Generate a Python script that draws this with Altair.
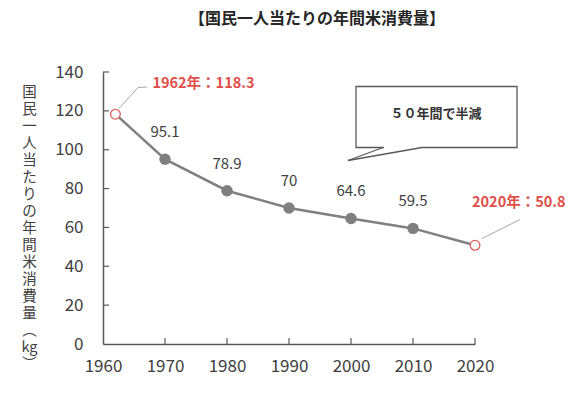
import pandas as pd
import altair as alt

# DATA
# ----
years = [1962, 1970, 1980, 1990, 2000, 2010, 2020]
values = [118.3, 95.1, 78.9, 70, 64.6, 59.5, 50.8]
mid_labels = ["", "95.1", "78.9", "70", "64.6", "59.5", ""]
x_ticks = [1970, 1980, 1990, 2000, 2010, 2020]
y_ticks = [20, 40, 60, 80, 100, 120, 140]

title_text = "【国民一人当たりの年間米消費量】"
y_title = list("国民一人当たりの年間米消費量") + ["︵", "kg", "︶"]
callout_text = "５０年間で半減"
end_years = [1962, 2020]
end_values = [118.3, 50.8]
end_labels = ["1962年：118.3", "2020年：50.8"]

FONT = "Noto Sans CJK JP"
W, H = 372, 272

df = pd.DataFrame({"year": years, "value": values, "label": mid_labels})
mid = df[df["label"] != ""]
ends = pd.DataFrame({"year": end_years, "value": end_values, "label": end_labels})
xt = pd.DataFrame({"year": x_ticks})
yt = pd.DataFrame({"value": y_ticks})

x_scale = alt.Scale(domain=[1960, 2020], nice=False, zero=False)
y_scale = alt.Scale(domain=[0, 140], nice=False)

x_axis = alt.Axis(values=[1960] + x_ticks, format="d", labelOverlap=False, labelFlush=False,
                  ticks=False, grid=False, labelPadding=14, labelFontSize=17,
                  labelColor="#404040", domainColor="#595959", domainWidth=1.5)
y_axis = alt.Axis(values=[0] + y_ticks, ticks=False, grid=False, labelPadding=20,
                  labelOverlap=False, labelFlush=False, labelFontSize=17,
                  labelColor="#404040", domainColor="#595959", domainWidth=1.5,
                  titleAngle=0, titleX=-74, titleY=13, titleAlign="center",
                  titleBaseline="top", titleFontSize=14.5, titleFontWeight="normal",
                  titleColor="#404040", titleLineHeight=17)
xs = alt.X("year:Q", scale=x_scale, title=None, axis=x_axis)
ys = alt.Y("value:Q", scale=y_scale, title=y_title, axis=y_axis)

# inward ticks drawn as rules
x_tick_marks = alt.Chart(xt).mark_rule(color="#595959", strokeWidth=1.2).encode(
    x=xs, y=alt.value(H), y2=alt.value(H - 6))
y_tick_marks = alt.Chart(yt).mark_rule(color="#595959", strokeWidth=1.2).encode(
    y=ys, x=alt.value(0), x2=alt.value(6))

line = alt.Chart(df).mark_line(color="#808080", strokeWidth=2.5).encode(x=xs, y=ys)
dots = alt.Chart(mid).mark_circle(color="#7f7f7f", size=130, opacity=1).encode(x=xs, y=ys)
rings = alt.Chart(ends).mark_point(shape="circle", size=95, filled=True, fill="white",
                                   stroke="#e0605a", strokeWidth=1.3, opacity=1).encode(
    x=xs, y=ys)
labels = alt.Chart(mid).mark_text(font=FONT, fontSize=15, color="#404040", dy=-27).encode(
    x=xs, y=ys, text="label:N")

red_1962 = alt.Chart(ends[ends["year"] == 1962]).mark_text(
    font=FONT, fontSize=14.5, fontWeight="bold", color="#e0504a", align="left", dx=37, dy=-30
).encode(x=xs, y=ys, text="label:N")
red_2020 = alt.Chart(ends[ends["year"] == 2020]).mark_text(
    font=FONT, fontSize=14.5, fontWeight="bold", color="#e0504a", align="left", dx=-3, dy=-42
).encode(x=xs, y=ys, text="label:N")

# leader lines
lead = dict(color="#a6a6a6", strokeWidth=1)
lead1 = alt.Chart().mark_rule(**lead).encode(
    x=alt.value(16), y=alt.value(36.5), x2=alt.value(35), y2=alt.value(15.5))
lead2 = alt.Chart().mark_rule(**lead).encode(
    x=alt.value(35), y=alt.value(15.5), x2=alt.value(44), y2=alt.value(15))
lead3 = alt.Chart().mark_rule(**lead).encode(
    x=alt.value(379), y=alt.value(166.5), x2=alt.value(417), y2=alt.value(147.5))

# callout box
box = alt.Chart().mark_rect(fill="white", stroke="#595959", strokeWidth=1.3).encode(
    x=alt.value(253), x2=alt.value(414), y=alt.value(14.5), y2=alt.value(75.5))
gap = alt.Chart().mark_rule(color="white", strokeWidth=3).encode(
    x=alt.value(281), x2=alt.value(318), y=alt.value(75.5), y2=alt.value(75.5))
tail1 = alt.Chart().mark_rule(color="#595959", strokeWidth=1.3).encode(
    x=alt.value(280), y=alt.value(75.5), x2=alt.value(245), y2=alt.value(88.5))
tail2 = alt.Chart().mark_rule(color="#595959", strokeWidth=1.3).encode(
    x=alt.value(245), y=alt.value(88.5), x2=alt.value(319), y2=alt.value(75.5))
callout = alt.Chart().mark_text(font=FONT, fontSize=13, fontWeight="bold",
                                color="#333333", text=callout_text).encode(
    x=alt.value(333), y=alt.value(41.5))

# chart title as a text mark so it does not move with the axis bounds
title = alt.Chart().mark_text(font=FONT, fontSize=16, fontWeight="bold",
                              color="#262626", text=title_text).encode(
    x=alt.value(214), y=alt.value(-53))

chart = alt.layer(
    line, x_tick_marks, y_tick_marks, dots, rings, labels, red_1962, red_2020,
    lead1, lead2, lead3, box, gap, tail1, tail2, callout, title
).properties(
    width=W,
    height=H,
    padding={"left": 95, "top": 64, "right": 95, "bottom": 45},
    autosize=alt.AutoSizeParams(type="none"),
).configure(font=FONT).configure_view(stroke=None)

chart.save("out.html", embed_options={"renderer": "svg", "actions": False})
